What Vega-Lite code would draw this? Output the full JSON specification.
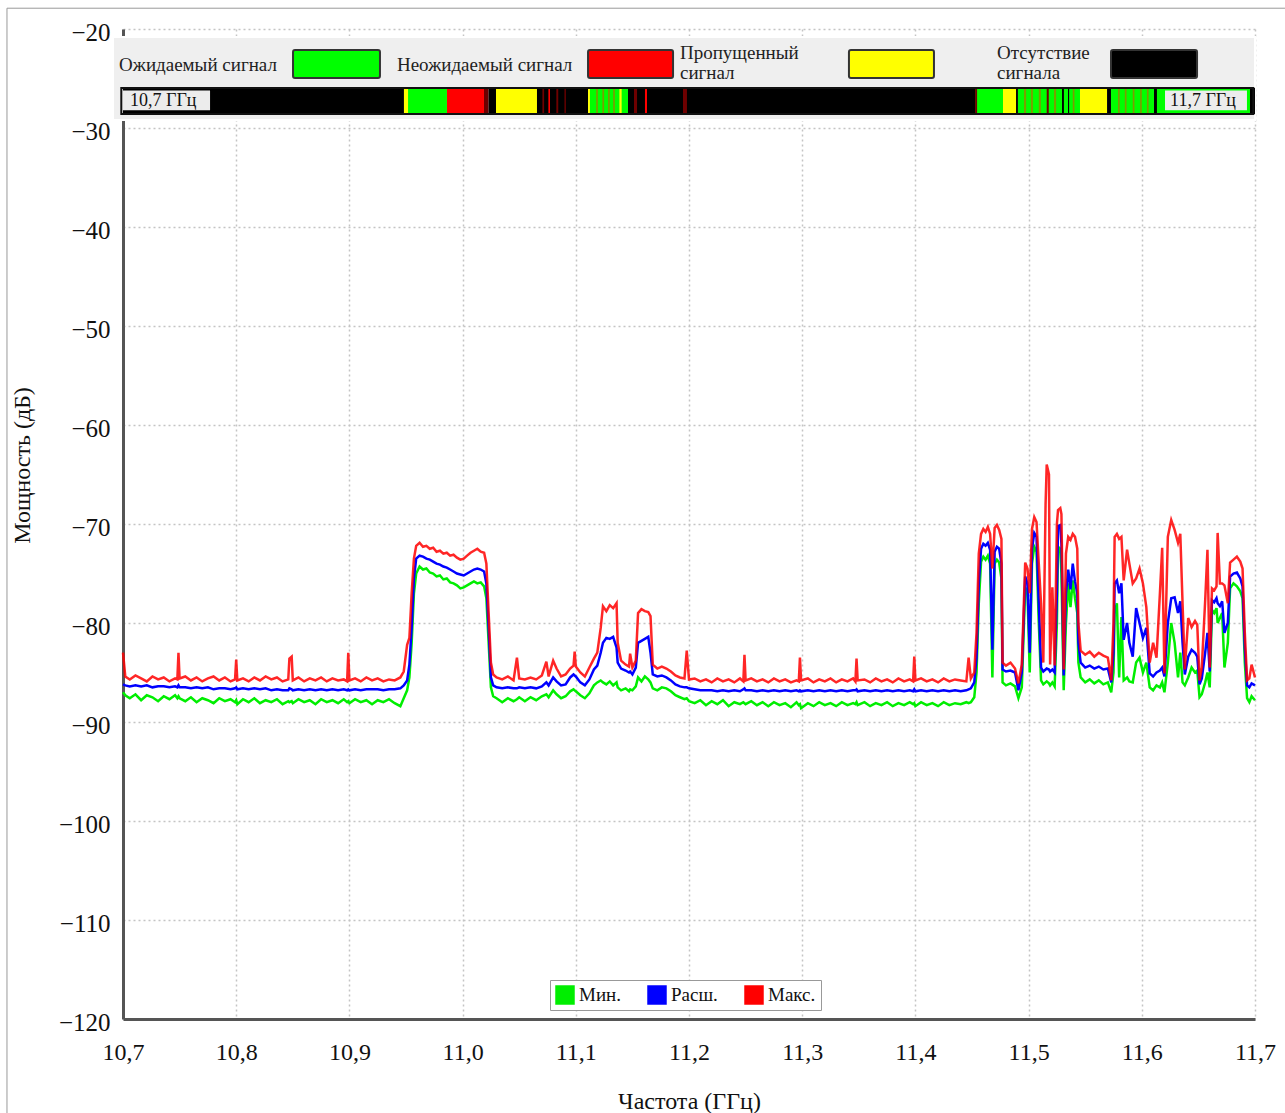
{
  "$schema": "https://vega.github.io/schema/vega-lite/v6.json",
  "width": 1132,
  "height": 990,
  "autosize": {"type": "none"},
  "padding": {"left": 123, "top": 29, "right": 30, "bottom": 94},
  "background": "white",
  "config": {
    "font": "Liberation Serif",
    "view": {"stroke": null},
    "axis": {"labelFont": "Liberation Serif", "titleFont": "Liberation Serif", "labelColor": "#111", "titleColor": "#111", "titleFontWeight": "normal"}
  },
  "datasets": {
    "spec": [
      {"f":10.700,"mn":-87.0,"av":-86.2,"mx":-83.0},
      {"f":10.702,"mn":-87.3,"av":-86.3,"mx":-85.4},
      {"f":10.706,"mn":-87.6,"av":-86.4,"mx":-85.7},
      {"f":10.711,"mn":-87.2,"av":-86.3,"mx":-85.3},
      {"f":10.716,"mn":-87.8,"av":-86.4,"mx":-85.6},
      {"f":10.721,"mn":-87.3,"av":-86.3,"mx":-85.9},
      {"f":10.726,"mn":-87.5,"av":-86.5,"mx":-85.4},
      {"f":10.731,"mn":-87.9,"av":-86.4,"mx":-85.7},
      {"f":10.736,"mn":-87.4,"av":-86.4,"mx":-85.5},
      {"f":10.741,"mn":-87.7,"av":-86.5,"mx":-85.9},
      {"f":10.746,"mn":-87.3,"av":-86.4,"mx":-85.6},
      {"f":10.748,"mn":-87.6,"av":-86.5,"mx":-85.7},
      {"f":10.749,"mn":-87.4,"av":-86.3,"mx":-83.0},
      {"f":10.750,"mn":-87.6,"av":-86.5,"mx":-85.6},
      {"f":10.755,"mn":-87.9,"av":-86.5,"mx":-85.4},
      {"f":10.760,"mn":-87.5,"av":-86.6,"mx":-85.8},
      {"f":10.765,"mn":-88.0,"av":-86.5,"mx":-85.5},
      {"f":10.770,"mn":-87.6,"av":-86.6,"mx":-85.9},
      {"f":10.775,"mn":-87.8,"av":-86.5,"mx":-85.6},
      {"f":10.780,"mn":-88.1,"av":-86.7,"mx":-85.4},
      {"f":10.785,"mn":-87.6,"av":-86.6,"mx":-85.8},
      {"f":10.790,"mn":-87.9,"av":-86.6,"mx":-85.5},
      {"f":10.795,"mn":-87.7,"av":-86.7,"mx":-85.9},
      {"f":10.799,"mn":-88.0,"av":-86.6,"mx":-85.7},
      {"f":10.800,"mn":-87.8,"av":-86.5,"mx":-83.7},
      {"f":10.801,"mn":-88.2,"av":-86.7,"mx":-85.8},
      {"f":10.806,"mn":-87.7,"av":-86.6,"mx":-85.6},
      {"f":10.811,"mn":-88.0,"av":-86.7,"mx":-85.9},
      {"f":10.816,"mn":-87.6,"av":-86.6,"mx":-85.5},
      {"f":10.821,"mn":-88.1,"av":-86.7,"mx":-85.8},
      {"f":10.826,"mn":-87.8,"av":-86.6,"mx":-85.4},
      {"f":10.831,"mn":-88.0,"av":-86.8,"mx":-85.7},
      {"f":10.836,"mn":-87.7,"av":-86.7,"mx":-85.5},
      {"f":10.841,"mn":-88.2,"av":-86.8,"mx":-85.9},
      {"f":10.846,"mn":-87.9,"av":-86.8,"mx":-85.7},
      {"f":10.847,"mn":-88.0,"av":-86.6,"mx":-83.6},
      {"f":10.849,"mn":-87.9,"av":-86.7,"mx":-83.4},
      {"f":10.850,"mn":-88.1,"av":-86.8,"mx":-85.8},
      {"f":10.855,"mn":-87.7,"av":-86.7,"mx":-85.5},
      {"f":10.860,"mn":-88.0,"av":-86.8,"mx":-85.9},
      {"f":10.865,"mn":-87.8,"av":-86.7,"mx":-85.6},
      {"f":10.870,"mn":-88.2,"av":-86.8,"mx":-85.8},
      {"f":10.875,"mn":-87.7,"av":-86.7,"mx":-85.5},
      {"f":10.880,"mn":-88.0,"av":-86.8,"mx":-85.9},
      {"f":10.885,"mn":-87.8,"av":-86.7,"mx":-85.6},
      {"f":10.890,"mn":-88.1,"av":-86.8,"mx":-85.8},
      {"f":10.895,"mn":-87.7,"av":-86.7,"mx":-85.7},
      {"f":10.898,"mn":-88.0,"av":-86.8,"mx":-85.9},
      {"f":10.899,"mn":-87.9,"av":-86.7,"mx":-83.0},
      {"f":10.900,"mn":-88.1,"av":-86.8,"mx":-85.8},
      {"f":10.905,"mn":-87.7,"av":-86.7,"mx":-85.6},
      {"f":10.910,"mn":-88.0,"av":-86.8,"mx":-85.9},
      {"f":10.915,"mn":-87.8,"av":-86.7,"mx":-85.5},
      {"f":10.920,"mn":-88.2,"av":-86.7,"mx":-85.8},
      {"f":10.925,"mn":-87.8,"av":-86.7,"mx":-85.6},
      {"f":10.930,"mn":-88.0,"av":-86.8,"mx":-85.9},
      {"f":10.935,"mn":-87.7,"av":-86.7,"mx":-85.7},
      {"f":10.940,"mn":-88.1,"av":-86.7,"mx":-85.8},
      {"f":10.945,"mn":-88.4,"av":-86.6,"mx":-85.5},
      {"f":10.948,"mn":-87.6,"av":-86.3,"mx":-84.9},
      {"f":10.951,"mn":-86.8,"av":-85.8,"mx":-82.2},
      {"f":10.953,"mn":-85.5,"av":-84.2,"mx":-81.5},
      {"f":10.955,"mn":-82.0,"av":-80.5,"mx":-77.0},
      {"f":10.957,"mn":-77.0,"av":-75.5,"mx":-73.5},
      {"f":10.959,"mn":-75.0,"av":-73.5,"mx":-72.2},
      {"f":10.962,"mn":-74.3,"av":-73.2,"mx":-71.9},
      {"f":10.965,"mn":-74.6,"av":-73.3,"mx":-72.3},
      {"f":10.968,"mn":-74.5,"av":-73.5,"mx":-72.2},
      {"f":10.971,"mn":-74.9,"av":-73.6,"mx":-72.5},
      {"f":10.974,"mn":-75.0,"av":-73.8,"mx":-72.4},
      {"f":10.977,"mn":-75.3,"av":-74.0,"mx":-72.8},
      {"f":10.980,"mn":-75.2,"av":-74.1,"mx":-72.7},
      {"f":10.983,"mn":-75.6,"av":-74.3,"mx":-73.0},
      {"f":10.986,"mn":-75.5,"av":-74.4,"mx":-72.9},
      {"f":10.989,"mn":-75.9,"av":-74.6,"mx":-73.2},
      {"f":10.992,"mn":-76.0,"av":-74.8,"mx":-73.1},
      {"f":10.995,"mn":-76.2,"av":-75.0,"mx":-73.4},
      {"f":10.998,"mn":-76.5,"av":-75.1,"mx":-73.6},
      {"f":11.001,"mn":-76.4,"av":-75.2,"mx":-73.5},
      {"f":11.004,"mn":-76.2,"av":-75.0,"mx":-73.2},
      {"f":11.007,"mn":-76.0,"av":-74.8,"mx":-72.9},
      {"f":11.010,"mn":-75.8,"av":-74.6,"mx":-72.7},
      {"f":11.013,"mn":-76.0,"av":-74.5,"mx":-72.5},
      {"f":11.016,"mn":-75.9,"av":-74.6,"mx":-72.8},
      {"f":11.019,"mn":-76.3,"av":-74.8,"mx":-72.9},
      {"f":11.021,"mn":-77.5,"av":-76.0,"mx":-74.0},
      {"f":11.023,"mn":-82.0,"av":-80.5,"mx":-79.0},
      {"f":11.025,"mn":-86.5,"av":-85.5,"mx":-84.0},
      {"f":11.027,"mn":-87.4,"av":-86.3,"mx":-85.2},
      {"f":11.030,"mn":-87.6,"av":-86.5,"mx":-85.5},
      {"f":11.035,"mn":-88.0,"av":-86.6,"mx":-85.7},
      {"f":11.040,"mn":-87.6,"av":-86.5,"mx":-85.4},
      {"f":11.045,"mn":-87.9,"av":-86.6,"mx":-85.8},
      {"f":11.048,"mn":-87.7,"av":-86.6,"mx":-83.5},
      {"f":11.050,"mn":-87.5,"av":-86.5,"mx":-85.6},
      {"f":11.055,"mn":-87.9,"av":-86.6,"mx":-85.7},
      {"f":11.060,"mn":-87.5,"av":-86.5,"mx":-85.5},
      {"f":11.065,"mn":-87.8,"av":-86.6,"mx":-85.7},
      {"f":11.070,"mn":-87.4,"av":-86.4,"mx":-85.3},
      {"f":11.074,"mn":-87.2,"av":-86.0,"mx":-83.9},
      {"f":11.076,"mn":-87.5,"av":-86.3,"mx":-85.4},
      {"f":11.080,"mn":-86.8,"av":-85.5,"mx":-83.8},
      {"f":11.083,"mn":-87.2,"av":-85.9,"mx":-84.6},
      {"f":11.087,"mn":-87.6,"av":-86.3,"mx":-85.4},
      {"f":11.091,"mn":-87.4,"av":-86.2,"mx":-85.2},
      {"f":11.095,"mn":-86.9,"av":-85.5,"mx":-84.6},
      {"f":11.098,"mn":-86.7,"av":-85.2,"mx":-84.3},
      {"f":11.099,"mn":-86.8,"av":-85.3,"mx":-82.9},
      {"f":11.100,"mn":-86.9,"av":-85.4,"mx":-84.4},
      {"f":11.104,"mn":-87.3,"av":-86.0,"mx":-85.0},
      {"f":11.108,"mn":-87.6,"av":-86.3,"mx":-85.4},
      {"f":11.112,"mn":-87.1,"av":-85.7,"mx":-84.5},
      {"f":11.116,"mn":-86.3,"av":-84.7,"mx":-83.6},
      {"f":11.119,"mn":-86.0,"av":-84.3,"mx":-83.0},
      {"f":11.122,"mn":-85.8,"av":-83.0,"mx":-80.5},
      {"f":11.124,"mn":-86.0,"av":-82.0,"mx":-78.3},
      {"f":11.127,"mn":-86.2,"av":-81.5,"mx":-78.8},
      {"f":11.130,"mn":-85.9,"av":-81.6,"mx":-78.2},
      {"f":11.133,"mn":-86.3,"av":-81.4,"mx":-78.5},
      {"f":11.136,"mn":-86.0,"av":-82.5,"mx":-78.0},
      {"f":11.137,"mn":-86.5,"av":-84.0,"mx":-82.0},
      {"f":11.140,"mn":-86.8,"av":-84.6,"mx":-83.8},
      {"f":11.144,"mn":-86.6,"av":-84.8,"mx":-84.2},
      {"f":11.147,"mn":-86.9,"av":-85.0,"mx":-84.4},
      {"f":11.148,"mn":-86.7,"av":-84.9,"mx":-83.1},
      {"f":11.150,"mn":-86.8,"av":-85.2,"mx":-84.5},
      {"f":11.153,"mn":-86.4,"av":-84.5,"mx":-83.8},
      {"f":11.155,"mn":-85.5,"av":-82.0,"mx":-79.0},
      {"f":11.158,"mn":-85.9,"av":-81.8,"mx":-78.6},
      {"f":11.161,"mn":-85.4,"av":-81.6,"mx":-78.8},
      {"f":11.164,"mn":-85.7,"av":-81.4,"mx":-78.9},
      {"f":11.166,"mn":-86.0,"av":-83.0,"mx":-79.3},
      {"f":11.168,"mn":-86.6,"av":-85.2,"mx":-84.2},
      {"f":11.172,"mn":-86.8,"av":-85.4,"mx":-84.6},
      {"f":11.176,"mn":-86.5,"av":-85.3,"mx":-84.4},
      {"f":11.180,"mn":-86.6,"av":-85.5,"mx":-84.6},
      {"f":11.184,"mn":-86.9,"av":-85.8,"mx":-84.9},
      {"f":11.188,"mn":-87.3,"av":-86.2,"mx":-85.3},
      {"f":11.192,"mn":-87.5,"av":-86.4,"mx":-85.5},
      {"f":11.196,"mn":-87.7,"av":-86.5,"mx":-85.6},
      {"f":11.198,"mn":-87.6,"av":-86.5,"mx":-82.8},
      {"f":11.200,"mn":-87.9,"av":-86.6,"mx":-85.7},
      {"f":11.205,"mn":-88.1,"av":-86.7,"mx":-85.6},
      {"f":11.210,"mn":-87.8,"av":-86.8,"mx":-85.9},
      {"f":11.215,"mn":-88.3,"av":-86.8,"mx":-85.7},
      {"f":11.220,"mn":-87.9,"av":-86.8,"mx":-86.0},
      {"f":11.225,"mn":-88.2,"av":-86.9,"mx":-85.6},
      {"f":11.230,"mn":-87.8,"av":-86.8,"mx":-85.9},
      {"f":11.235,"mn":-88.4,"av":-86.9,"mx":-85.7},
      {"f":11.240,"mn":-88.0,"av":-86.8,"mx":-86.0},
      {"f":11.245,"mn":-88.2,"av":-86.9,"mx":-85.6},
      {"f":11.248,"mn":-88.0,"av":-86.7,"mx":-85.9},
      {"f":11.249,"mn":-88.1,"av":-86.6,"mx":-83.2},
      {"f":11.250,"mn":-88.2,"av":-86.8,"mx":-85.8},
      {"f":11.255,"mn":-87.9,"av":-86.8,"mx":-85.6},
      {"f":11.260,"mn":-88.3,"av":-86.9,"mx":-85.9},
      {"f":11.265,"mn":-88.0,"av":-86.8,"mx":-85.7},
      {"f":11.270,"mn":-88.4,"av":-86.9,"mx":-86.0},
      {"f":11.275,"mn":-88.0,"av":-86.8,"mx":-85.6},
      {"f":11.280,"mn":-88.3,"av":-86.9,"mx":-85.9},
      {"f":11.285,"mn":-88.1,"av":-86.8,"mx":-85.7},
      {"f":11.290,"mn":-88.5,"av":-86.9,"mx":-86.0},
      {"f":11.295,"mn":-88.0,"av":-86.8,"mx":-85.8},
      {"f":11.297,"mn":-88.3,"av":-86.9,"mx":-85.9},
      {"f":11.298,"mn":-88.2,"av":-86.8,"mx":-83.5},
      {"f":11.299,"mn":-88.6,"av":-86.9,"mx":-85.8},
      {"f":11.305,"mn":-88.1,"av":-86.8,"mx":-85.6},
      {"f":11.310,"mn":-88.4,"av":-86.9,"mx":-86.0},
      {"f":11.315,"mn":-88.0,"av":-86.8,"mx":-85.7},
      {"f":11.320,"mn":-88.3,"av":-86.9,"mx":-85.9},
      {"f":11.325,"mn":-88.1,"av":-86.8,"mx":-85.6},
      {"f":11.330,"mn":-88.4,"av":-86.9,"mx":-86.0},
      {"f":11.335,"mn":-88.0,"av":-86.8,"mx":-85.7},
      {"f":11.340,"mn":-88.3,"av":-86.9,"mx":-85.9},
      {"f":11.345,"mn":-88.1,"av":-86.8,"mx":-85.6},
      {"f":11.347,"mn":-88.2,"av":-86.8,"mx":-85.9},
      {"f":11.348,"mn":-88.0,"av":-86.7,"mx":-83.6},
      {"f":11.349,"mn":-88.3,"av":-86.9,"mx":-85.8},
      {"f":11.355,"mn":-88.0,"av":-86.8,"mx":-85.7},
      {"f":11.360,"mn":-88.4,"av":-86.9,"mx":-86.0},
      {"f":11.365,"mn":-88.1,"av":-86.8,"mx":-85.6},
      {"f":11.370,"mn":-88.3,"av":-86.9,"mx":-85.9},
      {"f":11.375,"mn":-88.0,"av":-86.8,"mx":-85.7},
      {"f":11.380,"mn":-88.4,"av":-86.9,"mx":-86.0},
      {"f":11.385,"mn":-88.1,"av":-86.8,"mx":-85.6},
      {"f":11.390,"mn":-88.3,"av":-86.9,"mx":-85.9},
      {"f":11.395,"mn":-88.0,"av":-86.8,"mx":-85.7},
      {"f":11.398,"mn":-88.2,"av":-86.9,"mx":-85.9},
      {"f":11.399,"mn":-88.1,"av":-86.7,"mx":-83.4},
      {"f":11.400,"mn":-88.4,"av":-86.9,"mx":-85.8},
      {"f":11.405,"mn":-88.0,"av":-86.8,"mx":-85.6},
      {"f":11.410,"mn":-88.3,"av":-86.9,"mx":-85.9},
      {"f":11.415,"mn":-88.1,"av":-86.8,"mx":-85.7},
      {"f":11.420,"mn":-88.4,"av":-86.9,"mx":-86.0},
      {"f":11.425,"mn":-88.0,"av":-86.8,"mx":-85.6},
      {"f":11.430,"mn":-88.3,"av":-86.9,"mx":-85.9},
      {"f":11.435,"mn":-88.1,"av":-86.8,"mx":-85.7},
      {"f":11.440,"mn":-88.2,"av":-86.9,"mx":-85.8},
      {"f":11.445,"mn":-88.0,"av":-86.8,"mx":-85.9},
      {"f":11.447,"mn":-88.1,"av":-86.7,"mx":-83.5},
      {"f":11.449,"mn":-88.0,"av":-86.6,"mx":-85.6},
      {"f":11.452,"mn":-87.5,"av":-86.0,"mx":-85.0},
      {"f":11.454,"mn":-85.0,"av":-83.5,"mx":-81.0},
      {"f":11.456,"mn":-78.0,"av":-76.0,"mx":-73.0},
      {"f":11.458,"mn":-73.8,"av":-72.5,"mx":-71.0},
      {"f":11.460,"mn":-73.3,"av":-72.0,"mx":-70.5},
      {"f":11.462,"mn":-73.6,"av":-72.2,"mx":-70.8},
      {"f":11.464,"mn":-73.2,"av":-71.9,"mx":-70.3},
      {"f":11.466,"mn":-74.0,"av":-72.6,"mx":-71.0},
      {"f":11.468,"mn":-85.5,"av":-82.7,"mx":-74.5},
      {"f":11.470,"mn":-74.0,"av":-72.8,"mx":-70.4},
      {"f":11.472,"mn":-73.6,"av":-72.3,"mx":-70.1},
      {"f":11.474,"mn":-73.9,"av":-72.5,"mx":-70.6},
      {"f":11.476,"mn":-75.5,"av":-74.0,"mx":-71.5},
      {"f":11.477,"mn":-86.0,"av":-84.7,"mx":-84.0},
      {"f":11.480,"mn":-86.3,"av":-84.9,"mx":-84.3},
      {"f":11.484,"mn":-86.1,"av":-84.8,"mx":-84.0},
      {"f":11.488,"mn":-86.4,"av":-85.0,"mx":-84.6},
      {"f":11.491,"mn":-87.6,"av":-86.8,"mx":-86.1},
      {"f":11.494,"mn":-86.5,"av":-85.0,"mx":-84.2},
      {"f":11.497,"mn":-76.4,"av":-75.3,"mx":-73.9},
      {"f":11.499,"mn":-77.0,"av":-76.0,"mx":-74.5},
      {"f":11.501,"mn":-85.0,"av":-83.0,"mx":-77.0},
      {"f":11.503,"mn":-74.0,"av":-72.5,"mx":-70.5},
      {"f":11.505,"mn":-72.3,"av":-70.9,"mx":-69.3},
      {"f":11.507,"mn":-72.8,"av":-71.3,"mx":-69.8},
      {"f":11.509,"mn":-80.0,"av":-78.0,"mx":-74.0},
      {"f":11.511,"mn":-85.8,"av":-84.5,"mx":-78.0},
      {"f":11.513,"mn":-86.2,"av":-84.9,"mx":-84.0},
      {"f":11.515,"mn":-86.0,"av":-84.7,"mx":-68.0},
      {"f":11.516,"mn":-85.9,"av":-84.6,"mx":-64.0},
      {"f":11.518,"mn":-86.1,"av":-84.7,"mx":-65.0},
      {"f":11.519,"mn":-86.3,"av":-84.9,"mx":-84.2},
      {"f":11.521,"mn":-86.0,"av":-84.7,"mx":-76.4},
      {"f":11.523,"mn":-86.4,"av":-85.0,"mx":-84.3},
      {"f":11.525,"mn":-80.0,"av":-77.0,"mx":-70.0},
      {"f":11.526,"mn":-72.3,"av":-70.2,"mx":-68.6},
      {"f":11.528,"mn":-72.5,"av":-70.1,"mx":-68.4},
      {"f":11.529,"mn":-75.0,"av":-72.0,"mx":-69.0},
      {"f":11.531,"mn":-86.8,"av":-85.3,"mx":-84.7},
      {"f":11.533,"mn":-80.0,"av":-77.0,"mx":-73.0},
      {"f":11.535,"mn":-76.0,"av":-74.6,"mx":-71.3},
      {"f":11.537,"mn":-78.4,"av":-76.6,"mx":-71.6},
      {"f":11.539,"mn":-75.7,"av":-74.0,"mx":-71.0},
      {"f":11.541,"mn":-77.5,"av":-75.8,"mx":-71.3},
      {"f":11.543,"mn":-79.0,"av":-77.0,"mx":-72.5},
      {"f":11.544,"mn":-84.0,"av":-82.0,"mx":-80.0},
      {"f":11.546,"mn":-85.5,"av":-84.0,"mx":-82.8},
      {"f":11.550,"mn":-86.0,"av":-84.5,"mx":-83.2},
      {"f":11.554,"mn":-85.7,"av":-84.3,"mx":-82.9},
      {"f":11.558,"mn":-86.1,"av":-84.6,"mx":-83.4},
      {"f":11.562,"mn":-85.8,"av":-84.4,"mx":-83.0},
      {"f":11.566,"mn":-86.2,"av":-84.7,"mx":-83.3},
      {"f":11.570,"mn":-86.0,"av":-84.6,"mx":-83.5},
      {"f":11.573,"mn":-87.0,"av":-86.0,"mx":-85.8},
      {"f":11.575,"mn":-85.0,"av":-83.0,"mx":-80.0},
      {"f":11.576,"mn":-79.0,"av":-76.0,"mx":-71.3},
      {"f":11.578,"mn":-78.0,"av":-75.7,"mx":-71.0},
      {"f":11.580,"mn":-85.5,"av":-77.0,"mx":-71.5},
      {"f":11.582,"mn":-79.4,"av":-76.0,"mx":-71.3},
      {"f":11.584,"mn":-85.8,"av":-81.7,"mx":-75.7},
      {"f":11.587,"mn":-85.5,"av":-80.0,"mx":-72.6},
      {"f":11.589,"mn":-85.9,"av":-82.0,"mx":-74.0},
      {"f":11.592,"mn":-86.0,"av":-83.4,"mx":-76.0},
      {"f":11.595,"mn":-84.0,"av":-78.5,"mx":-75.5},
      {"f":11.598,"mn":-83.5,"av":-80.0,"mx":-74.5},
      {"f":11.601,"mn":-85.0,"av":-81.5,"mx":-76.0},
      {"f":11.604,"mn":-84.0,"av":-80.5,"mx":-78.4},
      {"f":11.607,"mn":-86.5,"av":-85.1,"mx":-84.0},
      {"f":11.610,"mn":-86.8,"av":-85.4,"mx":-82.0},
      {"f":11.613,"mn":-86.3,"av":-85.0,"mx":-83.5},
      {"f":11.616,"mn":-86.5,"av":-84.8,"mx":-77.0},
      {"f":11.618,"mn":-86.0,"av":-84.5,"mx":-72.4},
      {"f":11.620,"mn":-87.0,"av":-85.4,"mx":-85.1},
      {"f":11.623,"mn":-84.0,"av":-80.0,"mx":-71.3},
      {"f":11.626,"mn":-80.0,"av":-77.5,"mx":-69.6},
      {"f":11.629,"mn":-82.0,"av":-77.4,"mx":-70.6},
      {"f":11.632,"mn":-85.5,"av":-79.0,"mx":-71.9},
      {"f":11.634,"mn":-83.0,"av":-77.8,"mx":-71.0},
      {"f":11.636,"mn":-86.0,"av":-82.0,"mx":-78.0},
      {"f":11.638,"mn":-86.3,"av":-85.2,"mx":-84.7},
      {"f":11.641,"mn":-85.5,"av":-83.4,"mx":-79.5},
      {"f":11.644,"mn":-84.5,"av":-82.7,"mx":-80.4},
      {"f":11.647,"mn":-85.0,"av":-83.0,"mx":-79.8},
      {"f":11.649,"mn":-84.8,"av":-83.4,"mx":-80.2},
      {"f":11.651,"mn":-87.5,"av":-86.2,"mx":-85.8},
      {"f":11.653,"mn":-87.2,"av":-85.6,"mx":-84.5},
      {"f":11.656,"mn":-86.0,"av":-83.0,"mx":-77.7},
      {"f":11.658,"mn":-85.0,"av":-81.0,"mx":-72.6},
      {"f":11.660,"mn":-86.5,"av":-84.9,"mx":-84.5},
      {"f":11.662,"mn":-78.7,"av":-77.7,"mx":-76.5},
      {"f":11.664,"mn":-79.0,"av":-77.9,"mx":-76.7},
      {"f":11.666,"mn":-78.5,"av":-77.5,"mx":-76.3},
      {"f":11.667,"mn":-80.0,"av":-78.0,"mx":-70.9},
      {"f":11.669,"mn":-79.5,"av":-78.3,"mx":-76.0},
      {"f":11.671,"mn":-79.0,"av":-77.8,"mx":-76.0},
      {"f":11.673,"mn":-84.5,"av":-81.0,"mx":-76.2},
      {"f":11.676,"mn":-82.0,"av":-80.0,"mx":-78.0},
      {"f":11.678,"mn":-76.5,"av":-75.3,"mx":-73.9},
      {"f":11.681,"mn":-76.0,"av":-75.0,"mx":-73.6},
      {"f":11.684,"mn":-76.3,"av":-74.9,"mx":-73.3},
      {"f":11.687,"mn":-76.8,"av":-75.5,"mx":-73.8},
      {"f":11.689,"mn":-77.5,"av":-76.3,"mx":-74.5},
      {"f":11.691,"mn":-84.0,"av":-82.5,"mx":-81.0},
      {"f":11.693,"mn":-87.6,"av":-86.3,"mx":-85.8},
      {"f":11.695,"mn":-88.0,"av":-86.5,"mx":-85.6},
      {"f":11.697,"mn":-87.4,"av":-86.1,"mx":-84.2},
      {"f":11.700,"mn":-87.8,"av":-86.3,"mx":-85.5}
    ],
    "status": [
      {"a":10.700,"b":10.9482,"s":"Отсутствие"},
      {"a":10.9482,"b":10.9518,"s":"Пропущенный"},
      {"a":10.9518,"b":10.9862,"s":"Ожидаемый"},
      {"a":10.9862,"b":11.0189,"s":"Неожидаемый"},
      {"a":11.0189,"b":11.0230,"s":"смешанный"},
      {"a":11.0230,"b":11.0295,"s":"Отсутствие"},
      {"a":11.0295,"b":11.0657,"s":"Пропущенный"},
      {"a":11.0657,"b":11.1108,"s":"Отсутствие"},
      {"a":11.0705,"b":11.0720,"s":"смешанный"},
      {"a":11.0758,"b":11.0772,"s":"Неожидаемый"},
      {"a":11.0828,"b":11.0845,"s":"смешанный"},
      {"a":11.0900,"b":11.0912,"s":"смешанный"},
      {"a":11.1108,"b":11.1125,"s":"Пропущенный"},
      {"a":11.1125,"b":11.1461,"s":"Ожидаемый"},
      {"a":11.1180,"b":11.1195,"s":"частичный"},
      {"a":11.1235,"b":11.1250,"s":"частичный"},
      {"a":11.1285,"b":11.1300,"s":"частичный"},
      {"a":11.1330,"b":11.1345,"s":"частичный"},
      {"a":11.1385,"b":11.1405,"s":"Пропущенный"},
      {"a":11.1461,"b":11.4527,"s":"Отсутствие"},
      {"a":11.1514,"b":11.1541,"s":"смешанный"},
      {"a":11.1611,"b":11.1629,"s":"Неожидаемый"},
      {"a":11.1947,"b":11.1982,"s":"смешанный"},
      {"a":11.4527,"b":11.4774,"s":"Ожидаемый"},
      {"a":11.4527,"b":11.4545,"s":"смешанный"},
      {"a":11.4774,"b":11.4889,"s":"Пропущенный"},
      {"a":11.4889,"b":11.4906,"s":"Отсутствие"},
      {"a":11.4906,"b":11.5454,"s":"Ожидаемый"},
      {"a":11.4960,"b":11.4978,"s":"частичный"},
      {"a":11.5020,"b":11.5038,"s":"частичный"},
      {"a":11.5090,"b":11.5108,"s":"частичный"},
      {"a":11.5160,"b":11.5178,"s":"смешанный"},
      {"a":11.5225,"b":11.5243,"s":"частичный"},
      {"a":11.5295,"b":11.5312,"s":"Отсутствие"},
      {"a":11.5348,"b":11.5358,"s":"Отсутствие"},
      {"a":11.5390,"b":11.5405,"s":"частичный"},
      {"a":11.5454,"b":11.5693,"s":"Пропущенный"},
      {"a":11.5693,"b":11.5728,"s":"Отсутствие"},
      {"a":11.5728,"b":11.6134,"s":"Ожидаемый"},
      {"a":11.5790,"b":11.5805,"s":"частичный"},
      {"a":11.5850,"b":11.5865,"s":"частичный"},
      {"a":11.5920,"b":11.5935,"s":"частичный"},
      {"a":11.5985,"b":11.6000,"s":"частичный"},
      {"a":11.6045,"b":11.6060,"s":"частичный"},
      {"a":11.6108,"b":11.6134,"s":"Отсутствие"},
      {"a":11.6134,"b":11.6956,"s":"Ожидаемый"},
      {"a":11.6956,"b":11.7000,"s":"Отсутствие"}
    ],
    "swatches": [
      {"a":10.8502,"b":10.9270,"s":"Ожидаемый"},
      {"a":11.1108,"b":11.1859,"s":"Неожидаемый"},
      {"a":11.3413,"b":11.4164,"s":"Пропущенный"},
      {"a":11.5728,"b":11.6488,"s":"Отсутствие"}
    ],
    "labels": [
      {"x":10.6965,"y":-23.64,"t":"Ожидаемый сигнал"},
      {"x":10.9420,"y":-23.64,"t":"Неожидаемый сигнал"},
      {"x":11.1920,"y":-22.42,"t":"Пропущенный"},
      {"x":11.1920,"y":-24.44,"t":"сигнал"},
      {"x":11.4721,"y":-22.42,"t":"Отсутствие"},
      {"x":11.4721,"y":-24.44,"t":"сигнала"}
    ],
    "edges": [
      {"a":10.7000,"b":10.7769,"x":10.7062,"t":"10,7 ГГц"},
      {"a":11.6205,"b":11.6929,"x":11.6250,"t":"11,7 ГГц"}
    ],
    "frame": [
      {"x":10.5975,"x2":11.7265,"y":-17.9,"y2":-17.9},
      {"x":10.5975,"x2":10.5975,"y":-17.9,"y2":-129.6}
    ]
  },
  "layer": [
    {
      "data": {"name": "spec"},
      "mark": {"type": "line", "strokeWidth": 2.5, "interpolate": "linear"},
      "encoding": {
        "x": {"field": "f", "type": "quantitative",
          "scale": {"domain": [10.7, 11.7], "nice": false, "zero": false},
          "axis": {"title": "Частота (ГГц)", "values": [10.7,10.8,10.9,11.0,11.1,11.2,11.3,11.4,11.5,11.6,11.7],
            "labelExpr": "replace(format(datum.value, '.1f'), '.', ',')",
            "labelFont": "Liberation Serif", "titleFont": "Liberation Serif",
            "labelFontSize": 24, "labelPadding": 21, "labelFlush": false, "titleFontSize": 24, "titlePadding": 25,
            "ticks": false, "domainColor": "#555", "domainWidth": 3,
            "grid": true, "gridColor": "#c4c4c4", "gridDash": [2, 3], "gridWidth": 1.5}},
        "y": {"field": "mn", "type": "quantitative",
          "scale": {"domain": [-120, -20], "nice": false, "zero": false},
          "axis": {"title": "Мощность (дБ)", "values": [-20,-30,-40,-50,-60,-70,-80,-90,-100,-110,-120],
            "labelFont": "Liberation Serif", "titleFont": "Liberation Serif",
            "labelFontSize": 25, "labelPadding": 13, "labelOffset": 3, "titleFontSize": 24,
            "titleX": -101, "titleY": 436, "titleAlign": "center", "titleBaseline": "middle",
            "ticks": false, "domainColor": "#555", "domainWidth": 3,
            "grid": true, "gridColor": "#c4c4c4", "gridDash": [2, 3], "gridWidth": 1.5}},
        "color": {"datum": "Мин.", "type": "nominal",
          "scale": {"domain": ["Мин.", "Расш.", "Макс."], "range": ["#00ee00", "#0000ff", "#ff0000"]},
          "legend": {"title": null, "orient": "none", "legendX": 427, "legendY": 951, "direction": "horizontal",
            "fillColor": "white", "strokeColor": "#999", "padding": 5, "columnPadding": 26,
            "labelFont": "Liberation Serif", "labelFontSize": 19, "labelColor": "#111", "labelOffset": 4,
            "symbolType": "square", "symbolSize": 380, "symbolStrokeWidth": 0,
            "encode": {"symbols": {"update": {"fill": {"scale": "color", "field": "value"}, "fillOpacity": {"value": 1}, "strokeWidth": {"value": 0}}}}}}
      }
    },
    {
      "data": {"name": "spec"},
      "mark": {"type": "line", "strokeWidth": 2.5},
      "encoding": {
        "x": {"field": "f", "type": "quantitative"},
        "y": {"field": "av", "type": "quantitative"},
        "color": {"datum": "Расш.", "type": "nominal"}
      }
    },
    {
      "data": {"name": "spec"},
      "mark": {"type": "line", "strokeWidth": 2.5, "opacity": 0.85},
      "encoding": {
        "x": {"field": "f", "type": "quantitative"},
        "y": {"field": "mx", "type": "quantitative"},
        "color": {"datum": "Макс.", "type": "nominal"}
      }
    },
    {
      "data": {"values": [{"a": 10.6912, "b": 11.7}]},
      "mark": {"type": "rect", "fill": "#efefef", "stroke": "#ffffff", "strokeWidth": 2},
      "encoding": {
        "x": {"field": "a", "type": "quantitative"},
        "x2": {"field": "b"},
        "y": {"datum": -20.81},
        "y2": {"datum": -29.19}
      }
    },
    {
      "data": {"name": "status"},
      "mark": {"type": "rect"},
      "encoding": {
        "x": {"field": "a", "type": "quantitative"},
        "x2": {"field": "b"},
        "y": {"datum": -25.96},
        "y2": {"datum": -28.59},
        "fill": {"field": "s", "type": "nominal", "legend": null,
          "scale": {"domain": ["Ожидаемый", "Неожидаемый", "Пропущенный", "Отсутствие", "смешанный", "частичный"],
            "range": ["#00ff00", "#ff0000", "#ffff00", "#000000", "#6e0000", "#7f9a00"]}}
      }
    },
    {
      "data": {"values": [{"a": 10.6985, "b": 11.6985}]},
      "mark": {"type": "rect", "fillOpacity": 0, "stroke": "#111", "strokeWidth": 2},
      "encoding": {
        "x": {"field": "a", "type": "quantitative"},
        "x2": {"field": "b"},
        "y": {"datum": -25.96},
        "y2": {"datum": -28.59}
      }
    },
    {
      "data": {"name": "edges"},
      "mark": {"type": "rect", "fill": "#ececec"},
      "encoding": {
        "x": {"field": "a", "type": "quantitative"},
        "x2": {"field": "b"},
        "y": {"datum": -26.2},
        "y2": {"datum": -28.2}
      }
    },
    {
      "data": {"name": "edges"},
      "mark": {"type": "text", "align": "left", "baseline": "middle", "font": "Liberation Serif", "fontSize": 18, "color": "#111"},
      "encoding": {
        "x": {"field": "x", "type": "quantitative"},
        "y": {"datum": -27.25},
        "text": {"field": "t"}
      }
    },
    {
      "data": {"name": "swatches"},
      "mark": {"type": "rect", "stroke": "#333", "strokeWidth": 2, "cornerRadius": 2},
      "encoding": {
        "x": {"field": "a", "type": "quantitative"},
        "x2": {"field": "b"},
        "y": {"datum": -22.12},
        "y2": {"datum": -24.95},
        "fill": {"field": "s", "type": "nominal", "legend": null}
      }
    },
    {
      "data": {"name": "labels"},
      "mark": {"type": "text", "align": "left", "baseline": "middle", "font": "Liberation Serif", "fontSize": 19, "color": "#222"},
      "encoding": {
        "x": {"field": "x", "type": "quantitative"},
        "y": {"field": "y", "type": "quantitative"},
        "text": {"field": "t"}
      }
    },
    {
      "data": {"name": "frame"},
      "mark": {"type": "rule", "color": "#999", "strokeWidth": 1},
      "encoding": {
        "x": {"field": "x", "type": "quantitative"},
        "x2": {"field": "x2"},
        "y": {"field": "y", "type": "quantitative"},
        "y2": {"field": "y2"}
      }
    }
  ]
}
